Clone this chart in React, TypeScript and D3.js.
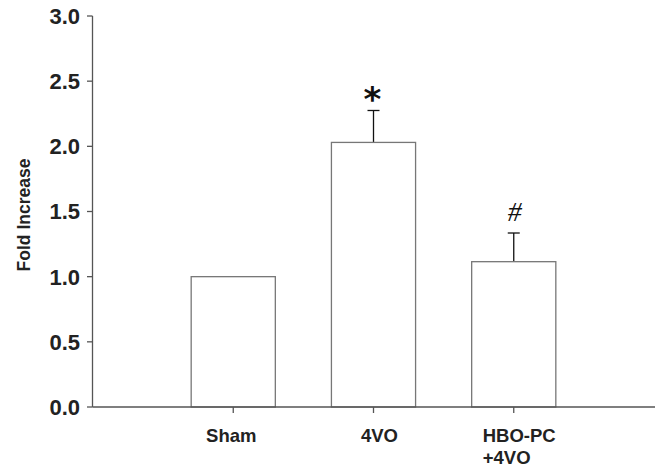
import React from 'react'
import * as d3 from 'd3'

const groups = ['Sham', '4VO', 'HBO-PC\n+4VO']
const means = [1.0, 2.03, 1.115]
const errs = [0, 0.245, 0.22]
const marks = ['', '*', '#']
const yTicks = [0, 0.5, 1.0, 1.5, 2.0, 2.5, 3.0]

const W = 655
const H = 468
const font = '"Liberation Sans", Arial, sans-serif'

const App = () => {
  const x = d3.scaleLinear().domain([0, 4]).range([93, 654])
  const y = d3.scaleLinear().domain([0, 3]).range([407, 16])
  const barW = x(0.6) - x(0)
  const labelDx = [-2, 6, 7]

  return (
    <svg width={W} height={H} style={{ position: 'absolute', left: 0, top: 0, background: '#fff' }}>
      {/* bars */}
      {means.map((m, i) => {
        const cx = x(i + 1)
        return (
          <g key={i}>
            {errs[i] > 0 && (
              <g stroke="#111" strokeWidth={1.3}>
                <line x1={cx} x2={cx} y1={y(m)} y2={y(m + errs[i])} />
                <line x1={cx - 6} x2={cx + 6} y1={y(m + errs[i])} y2={y(m + errs[i])} />
              </g>
            )}
            <rect x={cx - barW / 2} y={y(m)} width={barW} height={y(0) - y(m)}
              fill="#fff" stroke="#777" strokeWidth={1.3} />
            {marks[i] === '*' && (
              <text x={cx - 1} y={y(m + errs[i]) + 1} textAnchor="middle"
                fontFamily='"DejaVu Sans", sans-serif' fontWeight="bold" fontSize={34} fill="#111">*</text>
            )}
            {marks[i] === '#' && (
              <text x={cx + 1} y={y(m + errs[i]) - 12} textAnchor="middle"
                fontFamily='"Liberation Serif", serif' fontStyle="italic" fontSize={28} fill="#111">#</text>
            )}
          </g>
        )
      })}

      {/* y axis */}
      <line x1={92.5} x2={92.5} y1={y(3)} y2={y(0)} stroke="#555" strokeWidth={1.3} />
      {yTicks.map(t => (
        <g key={t}>
          <line x1={87} x2={92.5} y1={y(t)} y2={y(t)} stroke="#555" strokeWidth={1.3} />
          <text x={80} y={y(t)} dy="0.36em" textAnchor="end" fontFamily={font}
            fontWeight="bold" fontSize={22} fill="#222">{t.toFixed(1)}</text>
        </g>
      ))}
      <text transform={`translate(24,215) rotate(-90)`} dy="0.36em" textAnchor="middle"
        fontFamily={font} fontWeight="bold" fontSize={17.5} fill="#222">Fold Increase</text>

      {/* x axis */}
      <line x1={92.5} x2={W} y1={y(0)} y2={y(0)} stroke="#555" strokeWidth={1.3} />
      {groups.map((g, i) => {
        const cx = x(i + 1)
        const lines = g.split('\n')
        const lx = lines.length > 1 ? cx - 31 : cx + labelDx[i]
        return (
          <g key={g}>
            <line x1={cx} x2={cx} y1={y(0)} y2={y(0) + 6} stroke="#555" strokeWidth={1.3} />
            <text y={435} fontFamily={font} fontWeight="bold" fontSize={18.5} fill="#222"
              textAnchor={lines.length > 1 ? 'start' : 'middle'} x={lx}>
              {lines.map((l, j) => (
                <tspan key={j} x={lx} dy={j === 0 ? '0.36em' : 22}>{l}</tspan>
              ))}
            </text>
          </g>
        )
      })}
    </svg>
  )
}

export default App
